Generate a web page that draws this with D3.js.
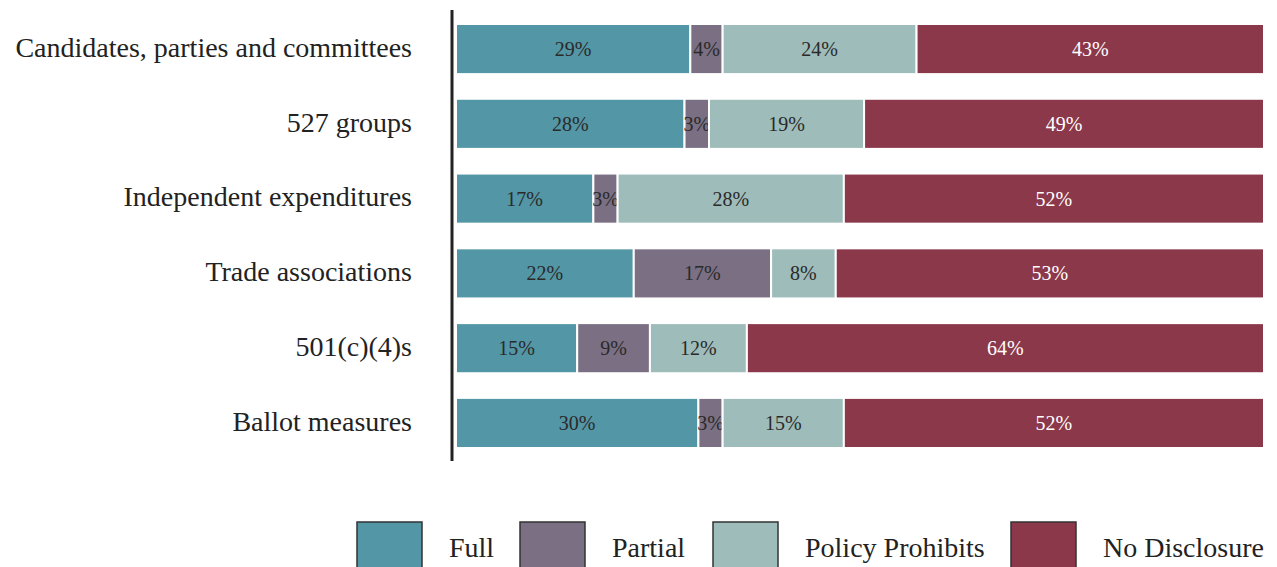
<!DOCTYPE html>
<html>
<head>
<meta charset="utf-8">
<script src="https://cdn.jsdelivr.net/npm/d3@7"></script>
<style>
  body { margin: 0; background: #fff; }
  text { font-family: "Liberation Serif", "DejaVu Serif", serif; }
</style>
</head>
<body>
<svg id="chart"></svg>
<script>
// data
const categories = [
  'Candidates, parties and committees',
  '527 groups',
  'Independent expenditures',
  'Trade associations',
  '501(c)(4)s',
  'Ballot measures'
];
const seriesNames = ['Full', 'Partial', 'Policy Prohibits', 'No Disclosure'];
const full = [29, 28, 17, 22, 15, 30];
const partial = [4, 3, 3, 17, 9, 3];
const policy = [24, 19, 28, 8, 12, 15];
const noDisclosure = [43, 49, 52, 53, 64, 52];

const colors = ['#5396a5', '#7a6f83', '#9ebcba', '#8b384b'];
const labelColors = ['#2a2a2a', '#2a2a2a', '#2a2a2a', '#fff'];

// constants
const width = 1277;
const height = 567;

const svg = d3.select('#chart')
  .attr('width', width)
  .attr('height', height);

const rows = categories.map((c, i) => ({
  category: c,
  'Full': full[i],
  'Partial': partial[i],
  'Policy Prohibits': policy[i],
  'No Disclosure': noDisclosure[i]
}));

const stack = d3.stack()
  .keys(seriesNames)
  .offset(d3.stackOffsetExpand);
const series = stack(rows);

const x = d3.scaleLinear().domain([0, 1]).range([456, 1264]);
const y = d3.scaleBand()
  .domain(categories)
  .range([24, 448])
  .paddingInner(0.33)
  .paddingOuter(0);

const color = d3.scaleOrdinal().domain(seriesNames).range(colors);
const textColor = d3.scaleOrdinal().domain(seriesNames).range(labelColors);

const groups = svg.selectAll('g.series')
  .data(series)
  .enter().append('g')
  .attr('class', 'series');

groups.selectAll('rect')
  .data(d => d.map(p => ({ key: d.key, p })))
  .enter().append('rect')
  .attr('x', d => x(d.p[0]))
  .attr('y', d => y(d.p.data.category))
  .attr('width', d => x(d.p[1]) - x(d.p[0]))
  .attr('height', y.bandwidth())
  .attr('fill', d => color(d.key))
  .attr('stroke', '#fff')
  .attr('stroke-width', 2);

groups.selectAll('text')
  .data(d => d.map(p => ({ key: d.key, p })))
  .enter().append('text')
  .attr('x', d => (x(d.p[0]) + x(d.p[1])) / 2)
  .attr('y', d => y(d.p.data.category) + y.bandwidth() / 2)
  .attr('dy', '0.35em')
  .attr('text-anchor', 'middle')
  .attr('font-size', '20px')
  .attr('fill', d => textColor(d.key))
  .text(d => d.p.data[d.key] + '%');

// category labels
svg.append('g')
  .selectAll('text')
  .data(categories)
  .enter().append('text')
  .attr('x', 412)
  .attr('y', d => y(d) + y.bandwidth() / 2 - 2)
  .attr('dy', '0.35em')
  .attr('text-anchor', 'end')
  .attr('font-size', '28px')
  .attr('fill', '#222')
  .text(d => d);

// axis line
svg.append('line')
  .attr('x1', 452).attr('x2', 452)
  .attr('y1', 10).attr('y2', 461)
  .attr('stroke', '#222')
  .attr('stroke-width', 3);

// legend
const legendX = [357, 520, 713, 1011];
const legend = svg.append('g')
  .selectAll('g')
  .data(seriesNames)
  .enter().append('g')
  .attr('transform', (d, i) => `translate(${legendX[i]},522)`);

legend.append('rect')
  .attr('width', 65)
  .attr('height', 50)
  .attr('fill', d => color(d))
  .attr('stroke', '#333')
  .attr('stroke-width', 1.5);

legend.append('text')
  .attr('x', 92)
  .attr('y', 35)
  .attr('font-size', '28px')
  .attr('fill', '#222')
  .text(d => d);
</script>
</body>
</html>
